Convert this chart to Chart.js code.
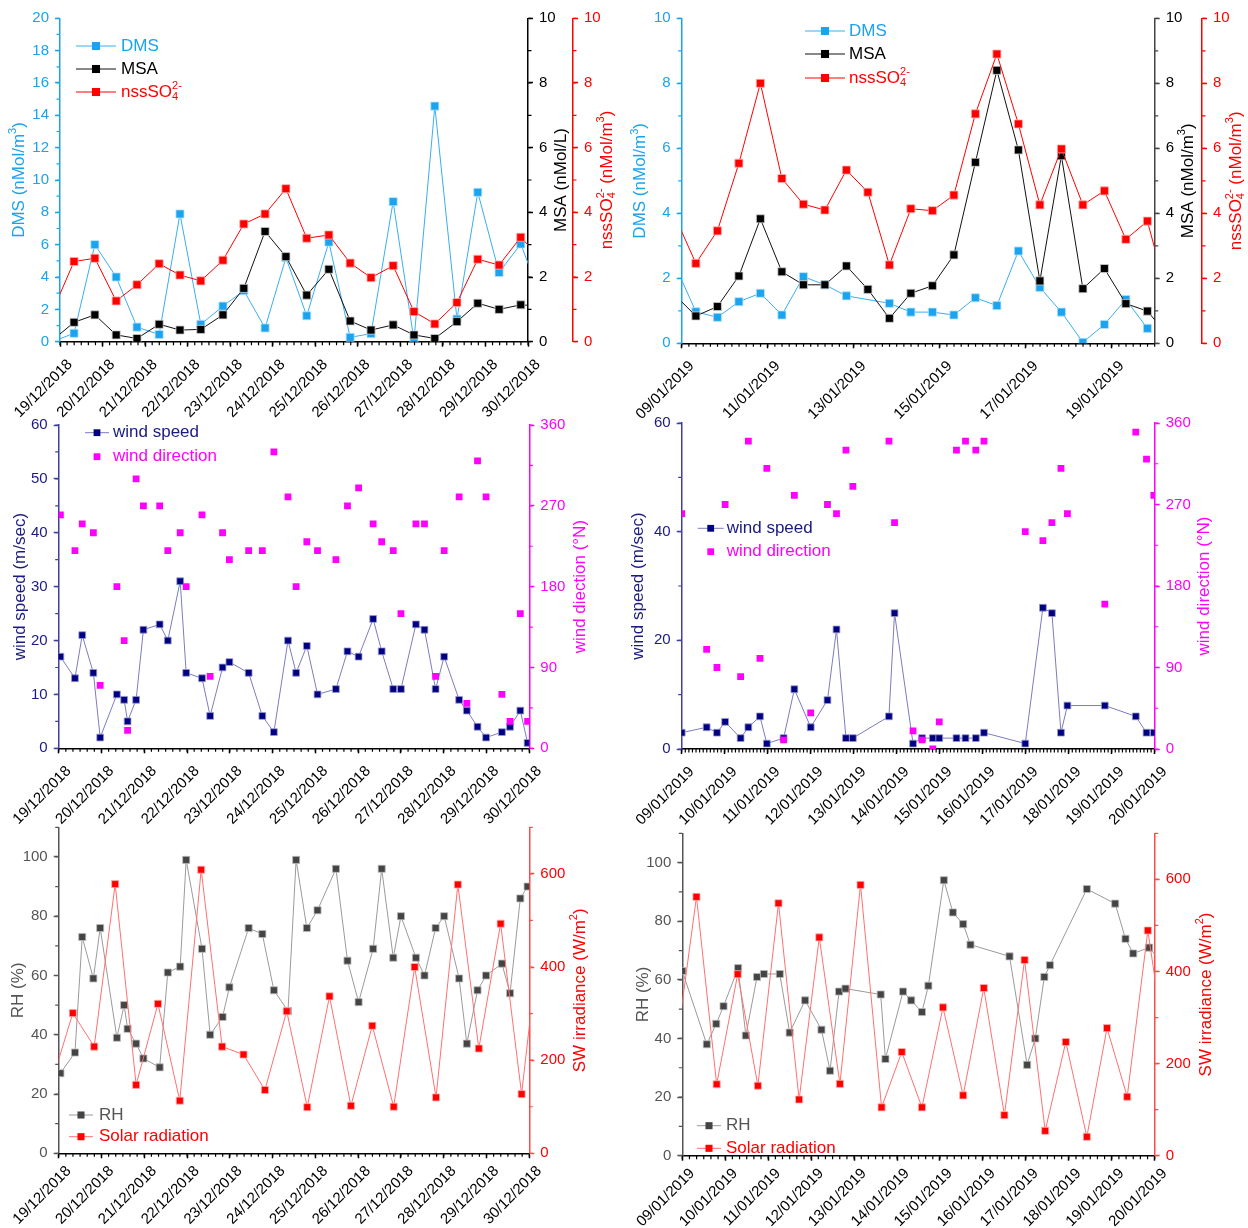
<!DOCTYPE html>
<html>
<head>
<meta charset="utf-8">
<script src="https://cdn.jsdelivr.net/npm/chart.js@4.4.1/dist/chart.umd.min.js"></script>
<style>
  body { margin: 0; background: #fff; width: 1248px; height: 1228px; position: relative; overflow: hidden; }
  canvas { position: absolute; }
</style>
</head>
<body>
<canvas id="tl" width="620" height="430" style="left:0;top:0"></canvas>
<canvas id="tr" width="628" height="430" style="left:620px;top:0"></canvas>
<canvas id="ml" width="620" height="430" style="left:0;top:410px"></canvas>
<canvas id="mr" width="628" height="430" style="left:620px;top:410px"></canvas>
<canvas id="bl" width="620" height="408" style="left:0;top:820px"></canvas>
<canvas id="br" width="628" height="408" style="left:620px;top:820px"></canvas>
<script>
// values, x = days after the first date on each axis

const decDates = ['19/12/2018', '20/12/2018', '21/12/2018', '22/12/2018', '23/12/2018', '24/12/2018',
    '25/12/2018', '26/12/2018', '27/12/2018', '28/12/2018', '29/12/2018', '30/12/2018'];
const janDates = ['09/01/2019', '10/01/2019', '11/01/2019', '12/01/2019', '13/01/2019', '14/01/2019',
    '15/01/2019', '16/01/2019', '17/01/2019', '18/01/2019', '19/01/2019', '20/01/2019'];

// December: DMS / MSA / nss sulphate
const decChemDays = [-0.18, 0.33, 0.82, 1.32, 1.81, 2.33, 2.82, 3.31, 3.83, 4.32, 4.82, 5.31,
    5.80, 6.32, 6.82, 7.31, 7.83, 8.32, 8.81, 9.33, 9.82, 10.32, 10.83, 11.32];
const decDms = [0.0, 0.52, 6.0, 4.0, 0.9, 0.45, 7.9, 1.07, 2.2, 3.16, 0.85, 5.2,
    1.6, 6.16, 0.27, 0.5, 8.66, 0.1, 14.57, 1.4, 9.24, 4.28, 6.04, 2.65];
const decMsa = [0.04, 0.60, 0.83, 0.21, 0.10, 0.54, 0.36, 0.38, 0.83, 1.65, 3.41, 2.63,
    1.44, 2.24, 0.64, 0.36, 0.52, 0.21, 0.10, 0.62, 1.19, 1.0, 1.14, 1.1];
const decNss = [0.93, 2.48, 2.58, 1.26, 1.76, 2.41, 2.06, 1.88, 2.52, 3.64, 3.95, 4.73,
    3.20, 3.30, 2.43, 1.98, 2.35, 0.93, 0.55, 1.21, 2.55, 2.37, 3.23, 2.54];

// January: DMS / MSA / nss sulphate
const janChemDays = [-0.17, 0.33, 0.83, 1.33, 1.83, 2.33, 2.83, 3.33, 3.83, 4.33, 4.83, 5.33,
    5.83, 6.33, 6.83, 7.33, 7.83, 8.33, 8.83, 9.33, 9.83, 10.33, 10.83, 11.33];
const janDms = [2.45, 0.97, 0.80, 1.28, 1.54, 0.87, 2.05, 1.80, 1.46, null, 1.23, 0.96,
    0.96, 0.87, 1.40, 1.16, 2.84, 1.72, 0.96, 0.03, 0.58, 1.35, 0.46, null];
const janMsa = [1.5, 0.84, 1.13, 2.07, 3.83, 2.20, 1.80, 1.80, 2.38, 1.66, 0.77, 1.54,
    1.77, 2.72, 5.57, 8.40, 5.95, 1.92, 5.77, 1.68, 2.30, 1.22, 0.99, 0.2];
const janNss = [3.94, 2.46, 3.46, 5.54, 8.0, 5.07, 4.28, 4.10, 5.33, 4.65, 2.41, 4.14,
    4.08, 4.56, 7.06, 8.90, 6.75, 4.26, 5.98, 4.26, 4.69, 3.20, 3.76, 1.3];

// December: met data (wind + RH share times)
const decMetDays = [0.04, 0.38, 0.55, 0.81, 0.97, 1.36, 1.53, 1.61, 1.81, 1.98, 2.36, 2.55,
    2.84, 2.98, 3.35, 3.54, 3.83, 3.99, 4.44, 4.76, 5.03, 5.36, 5.55, 5.80,
    6.05, 6.48, 6.75, 7.01, 7.35, 7.55, 7.82, 8.00, 8.35, 8.55, 8.81, 9.01,
    9.36, 9.54, 9.79, 9.99, 10.36, 10.55, 10.79, 10.96];
const decWindSpeed = [17, 13, 21, 14, 2, 10, 9, 5, 9, 22, 23, 20,
    31, 14, 13, 6, 15, 16, 14, 6, 3, 20, 14, 19,
    10, 11, 18, 17, 24, 18, 11, 11, 23, 22, 11, 17,
    9, 7, 4, 2, 3, 4, 7, 1];
const decWindDir = [260, 220, 250, 240, 70, 180, 120, 20, 300, 270, 270, 220,
    240, 180, 260, 80, 240, 210, 220, 220, 330, 280, 180, 230,
    220, 210, 270, 290, 250, 230, 220, 150, 250, 250, 80, 220,
    280, 50, 320, 280, 60, 30, 150, 30];
const decRh = [27, 34, 73, 59, 76, 39, 50, 42, 37, 32, 29, 61,
    63, 99, 69, 40, 46, 56, 76, 74, 55, 48, 99, 76,
    82, 96, 65, 51, 69, 96, 66, 80, 66, 60, 76, 80,
    59, 37, 55, 60, 64, 54, 86, 90];
const decSolarDays = [-0.17, 0.33, 0.83, 1.32, 1.81, 2.32, 2.83, 3.33, 3.82, 4.32, 4.82, 5.33,
    5.81, 6.33, 6.83, 7.33, 7.83, 8.32, 8.82, 9.33, 9.82, 10.33, 10.82, 11.33];
const decSolar = [150, 301, 229, 578, 147, 321, 113, 609, 229, 212, 136, 305,
    99, 337, 102, 274, 100, 400, 120, 577, 225, 493, 127, 540];

// January: met data
const janMetDays = [0.0, 0.58, 0.82, 1.01, 1.37, 1.55, 1.82, 1.98, 2.37, 2.62, 3.0, 3.39,
    3.6, 3.82, 3.98, 4.82, 4.95, 5.38, 5.59, 5.84, 5.99, 6.39, 6.6, 6.84,
    7.03, 7.99, 8.4, 8.61, 8.82, 8.97, 9.84, 10.56, 10.81, 10.98];
const janWindSpeed = [3, 4, 3, 5, 2, 4, 6, 1, 2, 11, 4, 9,
    22, 2, 2, 6, 25, 1, 2, 2, 2, 2, 2, 2,
    3, 1, 26, 25, 3, 8, 8, 6, 3, 3];
const janWindDir = [260, 110, 90, 270, 80, 340, 100, 310, 10, 280, 40, 270,
    260, 330, 290, 340, 250, 20, 10, 0, 30, 330, 340, 330,
    340, 240, 230, 250, 310, 260, 160, 350, 320, 280];
const janRhDays = [0.0, 0.57, 0.79, 0.96, 1.3, 1.48, 1.74, 1.9, 2.27, 2.5, 2.86, 3.24,
    3.44, 3.65, 3.8, 4.62, 4.73, 5.14, 5.33, 5.58, 5.73, 6.09, 6.3, 6.54,
    6.71, 7.62, 8.03, 8.22, 8.43, 8.56, 9.42, 10.08, 10.32, 10.5, 10.87, 11.1];
const janRh = [63, 38, 45, 51, 64, 41, 61, 62, 62, 42, 53, 43,
    29, 56, 57, 55, 33, 56, 53, 49, 58, 94, 83, 79,
    72, 68, 31, 40, 61, 65, 91, 86, 74, 69, 71, 67];
const janSolarDays = [-0.15, 0.33, 0.8, 1.29, 1.76, 2.24, 2.72, 3.19, 3.67, 4.15, 4.64, 5.11,
    5.58, 6.07, 6.54, 7.02, 7.5, 7.97, 8.45, 8.93, 9.42, 9.89, 10.36, 10.84, 11.32];
const janSolar = [229, 562, 155, 394, 152, 548, 122, 474, 156, 588, 105, 225,
    105, 322, 131, 364, 88, 425, 54, 247, 41, 277, 128, 489, 186];

// ---------------------------------------------------------------
const FONT = "'Liberation Sans', Arial, sans-serif";
Chart.defaults.font.family = FONT;
Chart.defaults.font.size = 15;
Chart.defaults.color = '#000';

const pts = (days, vals) => days.map((d, i) => ({ x: d, y: vals[i] }));

// text with optional stacked super/subscripts
function richWidth(ctx, parts, size) {
    let w = 0;
    parts.forEach(p => {
        if (p.t) { ctx.font = size + 'px ' + FONT; w += ctx.measureText(p.t).width; }
        else {
            ctx.font = Math.round(size * 0.62) + 'px ' + FONT;
            w += Math.max(p.sup ? ctx.measureText(p.sup).width : 0, p.sub ? ctx.measureText(p.sub).width : 0);
        }
    });
    return w;
}
function richDraw(ctx, parts, x, y, size) {
    ctx.textAlign = 'left';
    ctx.textBaseline = 'middle';
    parts.forEach(p => {
        if (p.t) {
            ctx.font = size + 'px ' + FONT;
            ctx.fillText(p.t, x, y);
            x += ctx.measureText(p.t).width;
        } else {
            ctx.font = Math.round(size * 0.62) + 'px ' + FONT;
            let w = 0;
            if (p.sup) { ctx.fillText(p.sup, x, y - size * 0.36); w = ctx.measureText(p.sup).width; }
            if (p.sub) { ctx.fillText(p.sub, x, y + size * 0.32); w = Math.max(w, ctx.measureText(p.sub).width); }
            x += w;
        }
    });
}

// minor ticks, rotated axis titles and the little legends
const decor = {
    id: 'decor',
    afterDraw(chart, args, opts) {
        const ctx = chart.ctx;
        const area = chart.chartArea;
        ctx.save();
        (opts.minor || []).forEach(m => {
            const s = chart.scales[m.id];
            const n = Math.round((s.max - s.min) / m.step);
            ctx.strokeStyle = m.color;
            ctx.lineWidth = 1.2;
            ctx.beginPath();
            for (let i = 0; i <= n; i++) {
                const p = s.getPixelForValue(s.min + i * m.step);
                if (s.isHorizontal()) { ctx.moveTo(p, s.top); ctx.lineTo(p, s.top + 3.5); }
                else if (s.position === 'left') { ctx.moveTo(s.right, p); ctx.lineTo(s.right - 3.5, p); }
                else { ctx.moveTo(s.left, p); ctx.lineTo(s.left + 3.5, p); }
            }
            ctx.stroke();
        });
        const yc = (area.top + area.bottom) / 2;
        (opts.titles || []).forEach(t => {
            ctx.save();
            ctx.translate(t.x, yc);
            ctx.rotate(-Math.PI / 2);
            ctx.fillStyle = t.color;
            const w = richWidth(ctx, t.parts, 17);
            richDraw(ctx, t.parts, -w / 2, 0, 17);
            ctx.restore();
        });
        (opts.legend || []).forEach(it => {
            const ds = chart.data.datasets[it.ds];
            if (ds.showLine !== false) {
                ctx.strokeStyle = ds.borderColor;
                ctx.lineWidth = 1;
                ctx.beginPath();
                ctx.moveTo(it.x - it.half, it.y);
                ctx.lineTo(it.x + it.half, it.y);
                ctx.stroke();
            }
            const side = ds.pointRadius * Math.SQRT2;
            ctx.fillStyle = ds.pointBackgroundColor;
            ctx.fillRect(it.x - side / 2, it.y - side / 2, side, side);
            ctx.fillStyle = it.color;
            richDraw(ctx, it.parts, it.tx, it.y, 17);
        });
        ctx.restore();
    }
};

// force axis boxes to fixed sizes so the plot areas line up with the figure
function fix(size) {
    return s => {
        if (s.isHorizontal()) s.height = size; else s.width = size;
        s.paddingTop = 0; s.paddingBottom = 0; s.paddingLeft = 0; s.paddingRight = 0;
    };
}

function xAxis(dates, step, height, pad) {
    return {
        type: 'linear', position: 'bottom', min: 0, max: 11,
        afterFit: fix(height),
        border: { color: '#000', width: 1.5 },
        grid: { drawOnChartArea: false, tickLength: 5, tickWidth: 1.5, tickColor: '#000' },
        ticks: {
            stepSize: step, autoSkip: false, includeBounds: false,
            minRotation: 45, maxRotation: 45, padding: pad, labelOffset: 10, color: '#000',
            callback: v => dates[Math.round(v)]
        }
    };
}

function yAxis(pos, max, step, width, line, color, weight) {
    return {
        type: 'linear', position: pos, min: 0, max: max, weight: weight || 0,
        afterFit: fix(width),
        border: { color: line, width: 1.5 },
        grid: { drawOnChartArea: false, tickLength: 5, tickWidth: 1.5, tickColor: line },
        ticks: { stepSize: step, includeBounds: false, padding: 6, color: color },
        title: { display: false }
    };
}

function series(label, data, yID, line, fill, edge, radius, order, extra) {
    return Object.assign({
        label: label, data: data, yAxisID: yID, xAxisID: 'x',
        borderColor: line, borderWidth: 1, tension: 0, fill: false, spanGaps: true,
        pointStyle: 'rect', pointRadius: radius, pointHoverRadius: radius,
        pointBackgroundColor: fill, pointBorderColor: edge, pointBorderWidth: 0.8,
        order: order
    }, extra || {});
}

function makeChart(id, datasets, scales, decorOpts, top) {
    return new Chart(document.getElementById(id), {
        type: 'line',
        data: { datasets: datasets },
        options: {
            responsive: false,
            animation: false,
            events: [],
            layout: { padding: { top: top, left: 0, right: 0, bottom: 0 } },
            plugins: { legend: { display: false }, tooltip: { enabled: false }, decor: decorOpts },
            scales: scales
        },
        plugins: [decor]
    });
}

const BLUE = '#1aa3ee', RED = '#ff0000', NAVY = '#000080', MAG = '#ff00ff', GREY = '#555555';
const NSS = [{ t: 'nssSO' }, { sup: '2-', sub: '4' }];

// ---- top left: December chemistry
makeChart('tl', [
    series('DMS', pts(decChemDays, decDms), 'yDms', '#3aaef0', BLUE, '#b5e2fb', 5.7, 2),
    series('MSA', pts(decChemDays, decMsa), 'yMsa', '#111', '#000', '#cfcfcf', 5.7, 1),
    series('nssSO4', pts(decChemDays, decNss), 'yNss', RED, RED, '#ffb0b0', 5.7, 0)
], {
    x: xAxis(decDates, 1, 88.3, 9),
    yDms: yAxis('left', 20, 2, 60, BLUE, BLUE),
    yMsa: yAxis('right', 10, 2, 45, '#000', '#000', 0),
    yNss: yAxis('right', 10, 2, 47, RED, RED, 1)
}, {
    minor: [{ id: 'x', step: 1 / 6, color: '#000' }, { id: 'yDms', step: 1, color: BLUE },
        { id: 'yMsa', step: 1, color: '#000' }, { id: 'yNss', step: 1, color: RED }],
    titles: [
        { x: 19, color: BLUE, parts: [{ t: 'DMS (nMol/m' }, { sup: '3' }, { t: ')' }] },
        { x: 561.7, color: '#000', parts: [{ t: 'MSA (nMol/L)' }] },
        { x: 607, color: RED, parts: NSS.concat([{ t: ' (nMol/m' }, { sup: '3' }, { t: ')' }]) }
    ],
    legend: [
        { ds: 0, x: 96, y: 46, half: 20, tx: 121, color: BLUE, parts: [{ t: 'DMS' }] },
        { ds: 1, x: 96, y: 69, half: 20, tx: 121, color: '#000', parts: [{ t: 'MSA' }] },
        { ds: 2, x: 96, y: 92, half: 20, tx: 121, color: RED, parts: NSS }
    ]
}, 18.3);

// ---- top right: January chemistry
makeChart('tr', [
    series('DMS', pts(janChemDays, janDms), 'yDms', '#3aaef0', BLUE, '#b5e2fb', 5.7, 2),
    series('MSA', pts(janChemDays, janMsa), 'yMsa', '#111', '#000', '#cfcfcf', 5.7, 1),
    series('nssSO4', pts(janChemDays, janNss), 'yNss', RED, RED, '#ffb0b0', 5.7, 0)
], {
    x: xAxis(janDates, 2, 86.7, 9),
    yDms: yAxis('left', 10, 2, 61.7, BLUE, BLUE),
    yMsa: yAxis('right', 10, 2, 47.3, '#444', '#000', 0),
    yNss: yAxis('right', 10, 2, 46, RED, RED, 1)
}, {
    minor: [{ id: 'x', step: 1 / 6, color: '#000' }, { id: 'yDms', step: 1, color: BLUE },
        { id: 'yMsa', step: 1, color: '#444' }, { id: 'yNss', step: 1, color: RED }],
    titles: [
        { x: 20.7, color: BLUE, parts: [{ t: 'DMS (nMol/m' }, { sup: '3' }, { t: ')' }] },
        { x: 568, color: '#000', parts: [{ t: 'MSA (nMol/m' }, { sup: '3' }, { t: ')' }] },
        { x: 616, color: RED, parts: NSS.concat([{ t: ' (nMol/m' }, { sup: '3' }, { t: ')' }]) }
    ],
    legend: [
        { ds: 0, x: 205, y: 31, half: 20, tx: 229, color: BLUE, parts: [{ t: 'DMS' }] },
        { ds: 1, x: 205, y: 54, half: 20, tx: 229, color: '#000', parts: [{ t: 'MSA' }] },
        { ds: 2, x: 205, y: 78, half: 20, tx: 229, color: RED, parts: NSS }
    ]
}, 18.3);

// ---- middle left: December wind
makeChart('ml', [
    series('wind speed', pts(decMetDays, decWindSpeed), 'ySpd', '#7c7cbc', NAVY, '#9a9ad0', 4.8, 1),
    series('wind direction', pts(decMetDays, decWindDir), 'yDir', MAG, MAG, MAG, 4.8, 0, { showLine: false, pointBorderWidth: 0 })
], {
    x: xAxis(decDates, 1, 91.7, 9),
    ySpd: yAxis('left', 60, 10, 58.7, '#4040a0', '#1a1a80'),
    yDir: yAxis('right', 360, 90, 90.7, MAG, MAG, 0)
}, {
    minor: [{ id: 'x', step: 1 / 6, color: '#000' }, { id: 'ySpd', step: 5, color: '#4040a0' },
        { id: 'yDir', step: 45, color: MAG }],
    titles: [
        { x: 20, color: '#1a1a80', parts: [{ t: 'wind speed (m/sec)' }] },
        { x: 580, color: MAG, parts: [{ t: 'wind diection (°N)' }] }
    ],
    legend: [
        { ds: 0, x: 97, y: 22.7, half: 12, tx: 113, color: '#1a1a80', parts: [{ t: 'wind speed' }] },
        { ds: 1, x: 97, y: 46.7, half: 12, tx: 113, color: MAG, parts: [{ t: 'wind direction' }] }
    ]
}, 15);

// ---- middle right: January wind
makeChart('mr', [
    series('wind speed', pts(janMetDays, janWindSpeed), 'ySpd', '#7c7cbc', NAVY, '#9a9ad0', 4.8, 1),
    series('wind direction', pts(janMetDays, janWindDir), 'yDir', MAG, MAG, MAG, 4.8, 0, { showLine: false, pointBorderWidth: 0 })
], {
    x: xAxis(janDates, 1, 91, 9),
    ySpd: yAxis('left', 60, 20, 61.7, '#4040a0', '#1a1a80'),
    yDir: yAxis('right', 360, 90, 93.3, MAG, MAG, 0)
}, {
    minor: [{ id: 'x', step: 1 / 12, color: '#000' }, { id: 'ySpd', step: 10, color: '#4040a0' },
        { id: 'yDir', step: 45, color: MAG }],
    titles: [
        { x: 18.3, color: '#1a1a80', parts: [{ t: 'wind speed (m/sec)' }] },
        { x: 584.7, color: MAG, parts: [{ t: 'wind direction (°N)' }] }
    ],
    legend: [
        { ds: 0, x: 90.7, y: 118.3, half: 13, tx: 106.7, color: '#1a1a80', parts: [{ t: 'wind speed' }] },
        { ds: 1, x: 90.7, y: 141.7, half: 13, tx: 106.7, color: MAG, parts: [{ t: 'wind direction' }] }
    ]
}, 13);

// ---- bottom left: December RH + solar
makeChart('bl', [
    series('RH', pts(decMetDays, decRh), 'yRh', '#9a9a9a', '#444', '#bbbbbb', 5, 1),
    series('Solar radiation', pts(decSolarDays, decSolar), 'ySw', '#ff7070', RED, '#ffb0b0', 5, 0)
], {
    x: xAxis(decDates, 1, 74.7, 4),
    yRh: yAxis('left', 110, 20, 58.7, GREY, GREY),
    ySw: yAxis('right', 700, 200, 90.7, '#ff4a4a', RED, 0)
}, {
    minor: [{ id: 'x', step: 1 / 6, color: '#000' }, { id: 'yRh', step: 10, color: GREY },
        { id: 'ySw', step: 100, color: '#ff4a4a' }],
    titles: [
        { x: 18.3, color: GREY, parts: [{ t: 'RH (%)' }] },
        { x: 580, color: RED, parts: [{ t: 'SW irradiance (W/m' }, { sup: '2' }, { t: ')' }] }
    ],
    legend: [
        { ds: 0, x: 81, y: 295, half: 12, tx: 99, color: GREY, parts: [{ t: 'RH' }] },
        { ds: 1, x: 81, y: 316.7, half: 12, tx: 99, color: RED, parts: [{ t: 'Solar radiation' }] }
    ]
}, 7.3);

// ---- bottom right: January RH + solar
makeChart('br', [
    series('RH', pts(janRhDays, janRh), 'yRh', '#9a9a9a', '#444', '#bbbbbb', 5, 1),
    series('Solar radiation', pts(janSolarDays, janSolar), 'ySw', '#ff7070', RED, '#ffb0b0', 5, 0)
], {
    x: xAxis(janDates, 1, 72.3, 4),
    yRh: yAxis('left', 110, 20, 62.3, GREY, GREY),
    ySw: yAxis('right', 700, 200, 93.3, '#ff4a4a', RED, 0)
}, {
    minor: [{ id: 'x', step: 1 / 6, color: '#000' }, { id: 'yRh', step: 10, color: GREY },
        { id: 'ySw', step: 100, color: '#ff4a4a' }],
    titles: [
        { x: 23.3, color: GREY, parts: [{ t: 'RH (%)' }] },
        { x: 586, color: RED, parts: [{ t: 'SW irradiance (W/m' }, { sup: '2' }, { t: ')' }] }
    ],
    legend: [
        { ds: 0, x: 89, y: 305.7, half: 12, tx: 106, color: GREY, parts: [{ t: 'RH' }] },
        { ds: 1, x: 89, y: 328.3, half: 12, tx: 106, color: RED, parts: [{ t: 'Solar radiation' }] }
    ]
}, 13.3);
</script>
</body>
</html>
